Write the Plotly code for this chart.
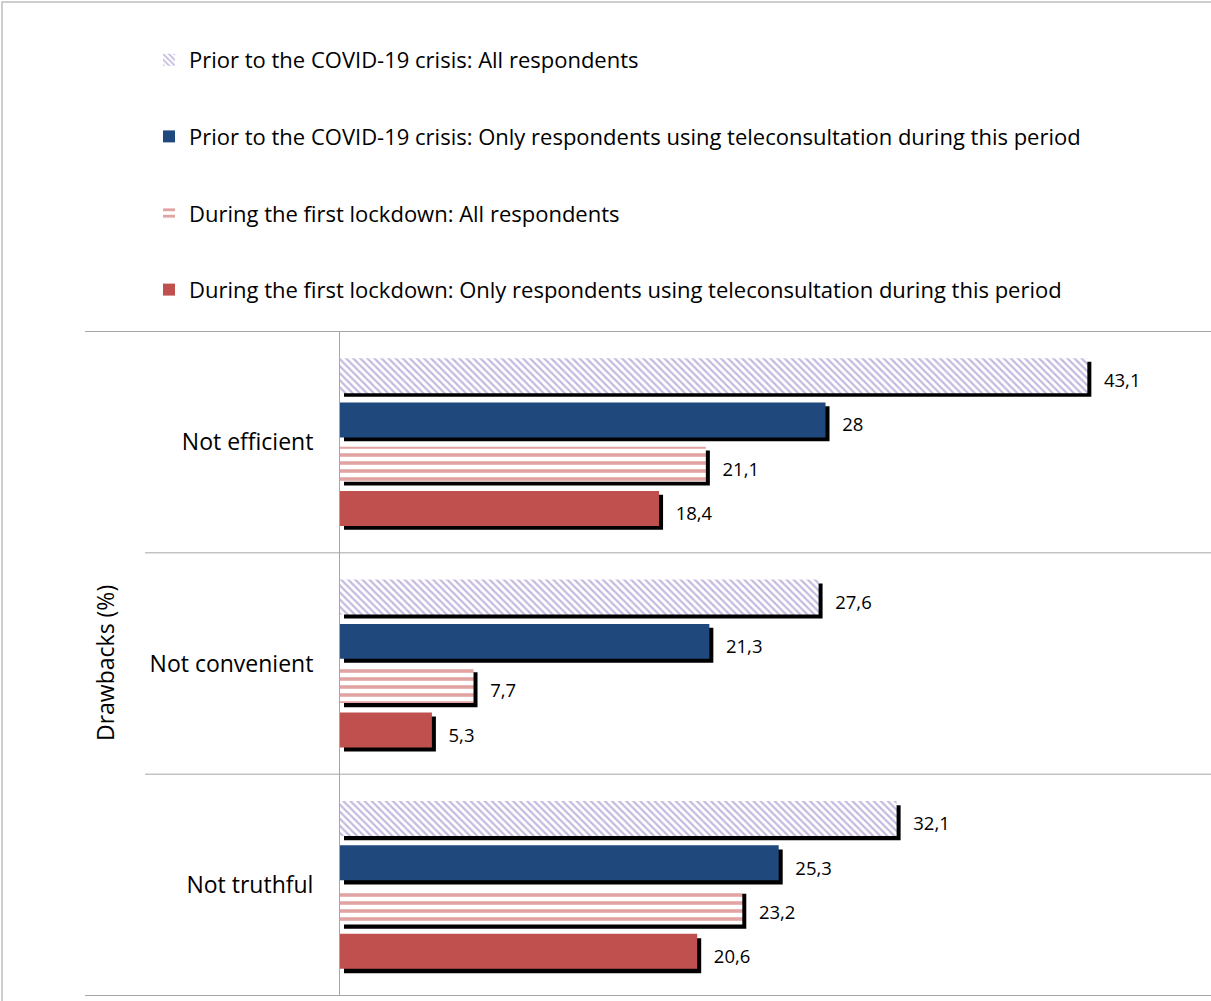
import plotly.graph_objects as go

categories = ["Not efficient", "Not convenient", "Not truthful"]
series_names = [
    "Prior to the COVID-19 crisis: All respondents",
    "Prior to the COVID-19 crisis: Only respondents using teleconsultation during this period",
    "During the first lockdown: All respondents",
    "During the first lockdown: Only respondents using teleconsultation during this period",
]
prior_all = [43.1, 27.6, 32.1]
prior_tele = [28, 21.3, 25.3]
lockdown_all = [21.1, 7.7, 23.2]
lockdown_tele = [18.4, 5.3, 20.6]
y_title = "Drawbacks (%)"

series_values = [prior_all, prior_tele, lockdown_all, lockdown_tele]

W, H = 1211, 1001
ML, MR, MT, MB = 340, 0, 331, 1
PW, PH = W - ML - MR, H - MT - MB
DX, DY = 4 / PW, 4 / PH
FONT = "Open Sans"

styles = [
    dict(color="white", pattern=dict(shape="\\", fgcolor="#8a74bf", bgcolor="white", size=5, solidity=0.45)),
    dict(color="#1f497d"),
    dict(color="white", pattern=dict(shape="-", fgcolor="#c44a47", bgcolor="white", size=8, solidity=0.45)),
    dict(color="#c0504d"),
]

def fmt(v):
    return ("%g" % v).replace(".", ",")

fig = go.Figure()
# shadows (lower layer, shifted axes) carrying the data labels
for name, vals in zip(series_names, series_values):
    fig.add_trace(go.Bar(
        y=categories, x=vals, orientation="h", xaxis="x", yaxis="y",
        marker=dict(color="black", line=dict(width=0)),
        text=[fmt(v) for v in vals], texttemplate="  %{text}", textposition="outside",
        textfont=dict(family=FONT, size=18.5, color="black"),
        cliponaxis=False, showlegend=False, hoverinfo="skip",
    ))
# main bars
for i, (name, vals, st) in enumerate(zip(series_names, series_values, styles)):
    fig.add_trace(go.Bar(
        y=categories, x=vals, orientation="h", xaxis="x2", yaxis="y2",
        name=name, legendgroup="g%d" % i,
        marker=dict(line=dict(width=0), **st),
    ))

xr = [0, 50]
fig.update_layout(
    width=W, height=H,
    margin=dict(l=ML, r=MR, t=MT, b=MB),
    paper_bgcolor="white", plot_bgcolor="rgba(0,0,0,0)",
    barmode="group", bargap=0.2, bargroupgap=0.21,
    font=dict(family=FONT, color="black"),
    xaxis=dict(domain=[DX, 1], range=xr, visible=False),
    yaxis=dict(domain=[0, 1 - DY], visible=False, autorange="reversed", type="category"),
    xaxis2=dict(domain=[0, 1 - DX], range=xr, anchor="y2", showticklabels=False,
                showgrid=False, zeroline=False, showline=False, ticks=""),
    yaxis2=dict(domain=[DY, 1], anchor="x2", autorange="reversed", type="category",
                showline=True, linecolor="#a6a6a6", linewidth=1, showgrid=False,
                ticks="outside", ticklen=21, tickcolor="rgba(0,0,0,0)",
                tickfont=dict(family=FONT, size=23, color="black")),
    legend=dict(
        x=(149 - ML) / PW, xanchor="left",
        y=1 + (MT - 39) / PH, yanchor="top",
        font=dict(family=FONT, size=22, color="black"),
        tracegroupgap=45, itemwidth=30, bgcolor="rgba(0,0,0,0)",
        traceorder="grouped",
    ),
    showlegend=True,
)

shapes = []
line_col = "#a6a6a6"
for yv, xl in [(-0.5, 85), (0.5, 145), (1.5, 145), (2.5, 85)]:
    shapes.append(dict(type="line", xref="paper", yref="y2", x0=(xl - ML) / PW, x1=1,
                       y0=yv, y1=yv, line=dict(color=line_col, width=1)))
shapes.append(dict(type="rect", xref="paper", yref="paper",
                   x0=(2 - ML) / PW, x1=(W + 4 - ML) / PW,
                   y0=-(MB + 4) / PH, y1=1 + (MT - 2) / PH,
                   line=dict(color="#bfbfbf", width=1.5)))
fig.update_layout(shapes=shapes)

fig.add_annotation(text=y_title, xref="paper", yref="paper",
                   x=(105 - ML) / PW, y=(H - MB - 663) / PH, textangle=-90,
                   xanchor="center", yanchor="middle",
                   showarrow=False, font=dict(family=FONT, size=23, color="black"))

fig.write_html("out.html", config={"displayModeBar": False},
               post_script="document.body.style.margin='0px';")
